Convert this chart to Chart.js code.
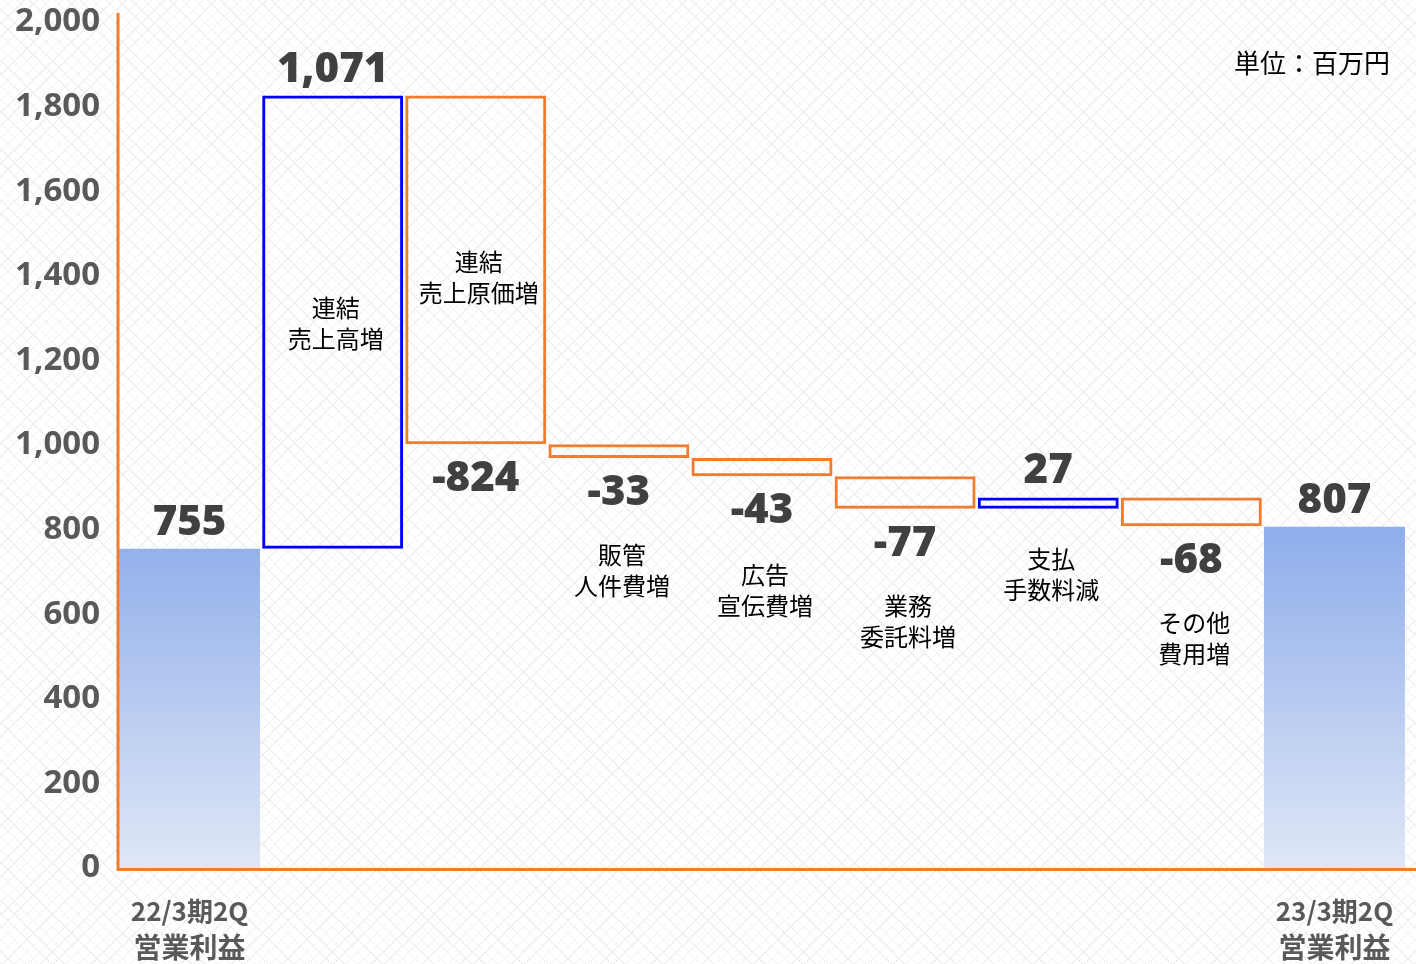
<!DOCTYPE html>
<html lang="ja">
<head>
<meta charset="utf-8">
<title>営業利益 増減要因</title>
<script src="https://cdn.jsdelivr.net/npm/chart.js@4.4.1/dist/chart.umd.min.js"></script>
<style>
  html, body { margin: 0; padding: 0; }
  body {
    width: 1416px; height: 964px; overflow: hidden;
    background-color: #fff;
    background-image:
      repeating-linear-gradient(45deg, #f0f0f0 0 1px, transparent 1px 9px),
      repeating-linear-gradient(-45deg, #f0f0f0 0 1px, transparent 1px 9px);
  }
  #wrap { position: relative; width: 1416px; height: 964px; }
</style>
</head>
<body>
<div id="wrap"><canvas id="chart" width="1416" height="964"></canvas></div>
<script>
// データ (単位: 百万円)
const categories = ["22/3期2Q営業利益", "連結売上高増", "連結売上原価増", "販管人件費増", "広告宣伝費増", "業務委託料増", "支払手数料減", "その他費用増", "23/3期2Q営業利益"];
const changes = [755, 1071, -824, -33, -43, -77, 27, -68, 807];
const kinds = ["total", "up", "down", "down", "down", "down", "up", "down", "total"];
const axisLabels = [["22/3期2Q", "営業利益"], [], [], [], [], [], [], [], ["23/3期2Q", "営業利益"]];
const barTexts = [[], ["連結", "売上高増"], ["連結", "売上原価増"], ["販管", "人件費増"], ["広告", "宣伝費増"], ["業務", "委託料増"], ["支払", "手数料減"], ["その他", "費用増"], []];
const yTicks = [0, 200, 400, 600, 800, 1000, 1200, 1400, 1600, 1800, 2000];
const unitText = "単位：百万円";

// 累積して浮動バーの範囲を作る
const ranges = [];
let run = 0;
changes.forEach((v, i) => {
  if (kinds[i] === "total") { ranges.push([0, v]); run = v; }
  else { ranges.push([run, run + v]); run += v; }
});

const ORANGE = "#ed7d31";
const BLUE = "#0000ff";
const CJK = '"Noto Sans CJK JP", "Noto Sans", sans-serif';
const NUM = '"Open Sans", "Noto Sans", sans-serif';

// 棒内/棒下のテキスト配置 (棒上端からの距離 or 下端からの距離)
const textPlace = [null, { from: "top", dy: 212 }, { from: "top", dy: 166 },
  { from: "bottom", dy: 97 }, { from: "bottom", dy: 99 }, { from: "bottom", dy: 97 },
  { from: "bottom", dy: 50 }, { from: "bottom", dy: 97 }, null];

const labelsPlugin = {
  id: "waterfallLabels",
  afterDatasetsDraw(chart) {
    const ctx = chart.ctx;
    const area = chart.chartArea;
    const meta = chart.getDatasetMeta(0);
    ctx.save();

    // 軸線
    ctx.strokeStyle = ORANGE;
    ctx.lineWidth = 3;
    ctx.beginPath();
    ctx.moveTo(area.left, 13);
    ctx.lineTo(area.left, area.bottom + 1.5);
    ctx.lineTo(chart.width, area.bottom + 1.5);
    ctx.stroke();

    ctx.textAlign = "center";
    ctx.textBaseline = "middle";
    meta.data.forEach((bar, i) => {
      const top = Math.min(bar.y, bar.base);
      const bottom = Math.max(bar.y, bar.base);
      const v = changes[i];

      // 数値
      ctx.fillStyle = "#404040";
      ctx.font = `800 42px ${NUM}`;
      const vy = v >= 0 ? top - 26 : bottom + 35;
      ctx.fillText(v.toLocaleString("en-US"), bar.x, vy);

      // 項目名
      const p = textPlace[i];
      if (p && barTexts[i].length) {
        ctx.fillStyle = "#000";
        ctx.font = `400 24px ${CJK}`;
        const y0 = p.from === "top" ? top + p.dy : bottom + p.dy;
        barTexts[i].forEach((t, k) => ctx.fillText(t, bar.x + 3, y0 + k * 31));
      }

      // 軸ラベル
      const al = axisLabels[i];
      if (al.length) {
        ctx.fillStyle = "#595959";
        ctx.font = `700 26px ${CJK}`;
        ctx.fillText(al[0], bar.x, area.bottom + 43);
        ctx.font = `700 28px ${CJK}`;
        ctx.fillText(al[1], bar.x, area.bottom + 79);
      }
    });

    ctx.fillStyle = "#000";
    ctx.font = `400 26px ${CJK}`;
    ctx.textAlign = "right";
    ctx.fillText(unitText, 1390, 63);
    ctx.restore();
  }
};

function totalFill(context) {
  const chart = context.chart;
  const area = chart.chartArea;
  if (!area) return "#9bb6ea";
  const ys = chart.scales.y;
  const g = chart.ctx.createLinearGradient(0, ys.getPixelForValue(807), 0, ys.getPixelForValue(0));
  g.addColorStop(0, "#8eadea");
  g.addColorStop(1, "#dfe7f7");
  return g;
}

new Chart(document.getElementById("chart"), {
  type: "bar",
  data: {
    labels: categories,
    datasets: [{
      data: ranges,
      backgroundColor: (c) => kinds[c.dataIndex] === "total" ? totalFill(c) : "rgba(0,0,0,0)",
      borderColor: kinds.map(k => k === "up" ? BLUE : k === "down" ? ORANGE : "rgba(0,0,0,0)"),
      borderWidth: kinds.map(k => k === "total" ? 0 : 3),
      borderSkipped: false,
      categoryPercentage: 1,
      barPercentage: 0.985
    }]
  },
  options: {
    responsive: false,
    devicePixelRatio: 1,
    animation: false,
    layout: { padding: { top: 22, right: 10, left: 0, bottom: 0 } },
    plugins: { legend: { display: false }, tooltip: { enabled: false } },
    scales: {
      x: {
        grid: { display: false, drawTicks: false },
        border: { display: false },
        ticks: { display: false },
        afterFit: (s) => { s.height = 96; s.paddingLeft = 0; s.paddingRight = 0; }
      },
      y: {
        min: 0,
        max: 2000,
        afterBuildTicks: (s) => { s.ticks = yTicks.map(v => ({ value: v })); },
        grid: { display: false, drawTicks: false },
        border: { display: false },
        ticks: {
          padding: 18,
          color: "#595959",
          font: { family: NUM, size: 33, weight: "700", lineHeight: 1 },
          callback: (v) => v.toLocaleString("en-US")
        },
        afterFit: (s) => { s.width = 118; s.paddingTop = 0; s.paddingBottom = 0; }
      }
    }
  },
  plugins: [labelsPlugin]
});
</script>
</body>
</html>
